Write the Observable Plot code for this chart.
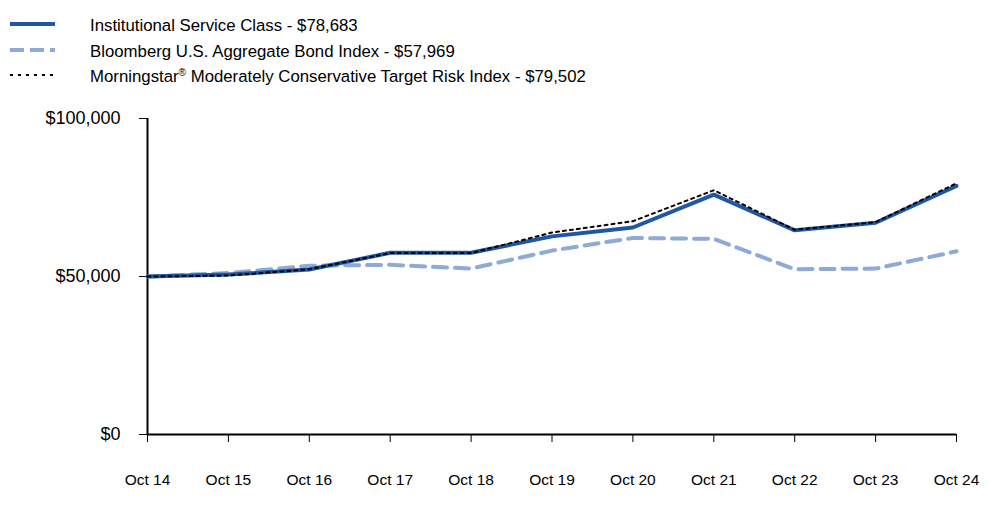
<!DOCTYPE html>
<html><head><meta charset="utf-8">
<script src="https://cdn.jsdelivr.net/npm/d3@7"></script>
<script src="https://cdn.jsdelivr.net/npm/@observablehq/plot@0.6"></script>
<style>
body{margin:0;background:#fff;font-family:"Liberation Sans",Arial,sans-serif;}
#legend{position:relative;height:95px;width:1000px;}
.item{position:absolute;left:0;height:24px;width:1000px;}
.item svg{position:absolute;left:10px;top:0;}
.item span{position:absolute;left:90px;top:2px;font-size:16.8px;color:#000;line-height:20px;}
sup{font-size:10px;vertical-align:6px;line-height:0;}
</style></head>
<body>
<div id="legend"></div>
<div id="chart"></div>
<script>
const categories = ["Oct 14","Oct 15","Oct 16","Oct 17","Oct 18","Oct 19","Oct 20","Oct 21","Oct 22","Oct 23","Oct 24"];
const institutional = [50000,50600,52200,57500,57500,62700,65500,75900,64600,67000,78683];
const bloomberg = [50000,51100,53400,53700,52500,58200,62200,61900,52300,52500,57969];
const morningstar = [50000,50300,52300,57400,57400,63900,67500,77300,64800,67200,79502];
const yTicks = [0,50000,100000];
const seriesNames = ["Institutional Service Class - $78,683","Bloomberg U.S. Aggregate Bond Index - $57,969","Morningstar<sup>®</sup> Moderately Conservative Target Risk Index - $79,502"];

const styles = [
  {stroke:"#1f57a5", width:4, dash:null},
  {stroke:"#8eaad6", width:4, dash:"14,8"},
  {stroke:"#000", width:2, dash:"3,4"}
];
const legend = document.getElementById("legend");
const tops = [14,40,65];
seriesNames.forEach((n,i)=>{
  const d = document.createElement("div");
  d.className="item"; d.style.top = tops[i]+"px";
  const s = styles[i];
  d.innerHTML = `<svg width="50" height="20"><line x1="0" x2="45" y1="10" y2="10" stroke="${s.stroke}" stroke-width="${s.width}" ${s.dash?`stroke-dasharray="${i==1?'14,6':'3,5'}"`:""}/></svg><span>${n}</span>`;
  legend.appendChild(d);
});

const mk = arr => categories.map((c,i)=>({x:c,y:arr[i]}));
const plot = Plot.plot({
  width:1000, height:428,
  marginTop:23, marginBottom:89, marginLeft:147, marginRight:44,
  style:{fontFamily:"Liberation Sans, Arial, sans-serif", fontSize:"16px", color:"#000", background:"#fff"},
  x:{type:"point", domain:categories, padding:0, round:false, label:null},
  y:{domain:[0,100000], label:null},
  marks:[
    Plot.axisX({tickSize:8, tickPadding:31, fontSize:15.5, tickFormat:d=>d}),
    Plot.axisY({ticks:yTicks, tickSize:8, tickPadding:19, fontSize:18, tickFormat:d=>"$"+d3.format(",")(d)}),
    Plot.ruleY([0],{stroke:"#000", strokeWidth:2}),
    Plot.ruleX([categories[0]],{y1:0,y2:100000,stroke:"#000",strokeWidth:2}),
    Plot.line(mk(bloomberg),{x:"x",y:"y",stroke:styles[1].stroke,strokeWidth:4,strokeDasharray:"14,8"}),
    Plot.line(mk(institutional),{x:"x",y:"y",stroke:styles[0].stroke,strokeWidth:4}),
    Plot.line(mk(morningstar),{x:"x",y:"y",stroke:"#000",strokeWidth:2,strokeDasharray:"3,4"})
  ]
});
document.getElementById("chart").appendChild(plot);
</script>
</body></html>
